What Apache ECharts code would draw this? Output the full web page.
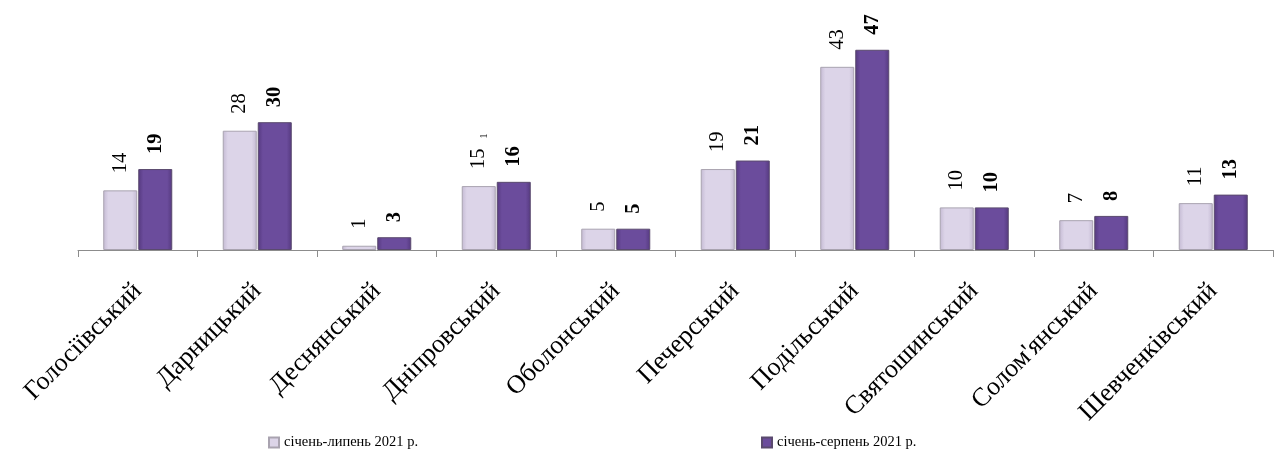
<!DOCTYPE html>
<html>
<head>
<meta charset="utf-8">
<script src="https://cdn.jsdelivr.net/npm/echarts@6/dist/echarts.min.js"></script>
<style>html,body{margin:0;padding:0;background:#fff}#c{width:1280px;height:457px}</style>
</head>
<body>
<div id="c"></div>
<script>
const categories = ['Голосіївський','Дарницький','Деснянський','Дніпровський','Оболонський','Печерський','Подільський','Святошинський','Солом\'янський','Шевченківський'];
const seriesNames = ['січень-липень 2021 р.','січень-серпень 2021 р.'];
const julyValues = [14, 28, 1, 15, 5, 19, 43, 10, 7, 11];
const augustValues = [19, 30, 3, 16, 5, 21, 47, 10, 8, 13];

const serif = '"Liberation Serif", "Times New Roman", serif';
const chart = echarts.init(document.getElementById('c'));

function grad(edge, mid) {
  return new echarts.graphic.LinearGradient(0, 0, 1, 0, [
    {offset: 0, color: edge}, {offset: 0.15, color: mid}, {offset: 0.85, color: mid}, {offset: 1, color: edge}
  ]);
}

chart.setOption({
  animation: false,
  grid: {left: 78, right: 7, top: 37, bottom: 207},
  legend: [
    {data: [seriesNames[0]], left: 263, top: 430, itemWidth: 10, itemHeight: 10, itemGap: 4, icon: 'rect',
     textStyle: {fontFamily: serif, fontSize: 14.5, color: '#000'}},
    {data: [seriesNames[1]], left: 756, top: 430, itemWidth: 10, itemHeight: 10, itemGap: 4, icon: 'rect',
     textStyle: {fontFamily: serif, fontSize: 14.5, color: '#000'}}
  ],
  xAxis: {
    type: 'category', data: categories,
    axisLine: {lineStyle: {color: '#8c8c8c', width: 1}},
    axisTick: {show: true, length: 7, lineStyle: {color: '#8c8c8c'}},
    axisLabel: {rotate: 45, fontFamily: serif, fontSize: 26, color: '#000', margin: 37, interval: 0}
  },
  yAxis: {type: 'value', min: 0, max: 50, show: false, splitLine: {show: false}},
  series: [
    {
      name: seriesNames[0], type: 'bar', data: julyValues, barWidth: 34, barGap: '3%',
      itemStyle: {color: grad('#c4bad3', '#dcd4e8'), borderColor: '#a9a3b0', borderWidth: 1},
      label: {
        show: true, position: 'top', rotate: 90, align: 'left', verticalAlign: 'middle', distance: 17,
        fontFamily: serif, fontSize: 20.5, color: '#000',
        formatter: p => p.dataIndex === 3 ? p.value + '{s|1}' : String(p.value),
        rich: {s: {fontFamily: serif, fontSize: 10, color: '#000', padding: [0, 0, 0, 10], verticalAlign: 'bottom'}}
      }
    },
    {
      name: seriesNames[1], type: 'bar', data: augustValues, barWidth: 34,
      itemStyle: {color: grad('#55397f', '#6b4c9c'), borderColor: '#5a4a6e', borderWidth: 1},
      label: {
        show: true, position: 'top', rotate: 90, align: 'left', verticalAlign: 'middle', distance: 15,
        fontFamily: serif, fontSize: 20.5, fontWeight: 'bold', color: '#000'
      }
    }
  ]
});
</script>
</body>
</html>
